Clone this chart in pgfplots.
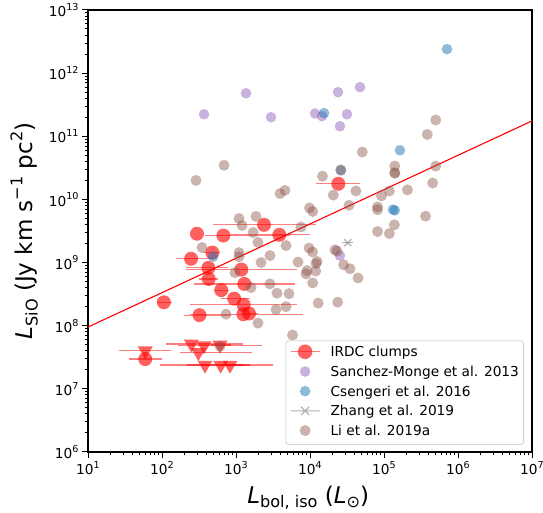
\documentclass[border=0pt]{standalone}
\usepackage{fontspec}
\setmainfont{DejaVu Sans}
\usepackage{pgfplots}
\pgfplotsset{compat=1.18}

\definecolor{tabpurple}{HTML}{9467BD}
\definecolor{tabblue}{HTML}{1F77B4}
\definecolor{tabgray}{HTML}{7F7F7F}
\definecolor{tabbrown}{HTML}{8C564B}

\newcommand{\sups}[1]{\raisebox{0.46em}{\scalebox{0.7}{#1}}}
\newcommand{\subs}[1]{\raisebox{-0.2em}{\scalebox{0.7}{#1}}}
\newcommand{\dec}[1]{10\sups{#1}}

\begin{document}
\begin{tikzpicture}
\begin{axis}[
  name=main,
  scale only axis, width=444pt, height=442pt,
  xmode=log, ymode=log,
  xmin=1e1, xmax=1e7, ymin=1e6, ymax=1e13,
  xtick={1e1,1e2,1e3,1e4,1e5,1e6,1e7},
  xticklabels={\dec{1},\dec{2},\dec{3},\dec{4},\dec{5},\dec{6},\dec{7}},
  ytick={1e6,1e7,1e8,1e9,1e10,1e11,1e12,1e13},
  yticklabels={\dec{6},\dec{7},\dec{8},\dec{9},\dec{10},\dec{11},\dec{12},\dec{13}},
  xtick pos=bottom, ytick pos=left,
  tick align=outside,
  major tick length=6pt, minor tick length=3.5pt,
  every tick/.style={black, line width=1pt},
  axis line style={black, line width=1.3pt},
  tick label style={font=\fontsize{13.7}{16}\selectfont},
  xlabel={\textit{L}\subs{bol, iso} (\textit{L}\subs{⊙})},
  ylabel={\textit{L}\subs{SiO} (Jy km s\sups{−1} pc\sups{2})},
  every axis x label/.style={at={(axis description cs:0.496,-0.103)}, anchor=center, font=\fontsize{23}{27}\selectfont},
  every axis y label/.style={at={(axis description cs:-0.144,0.5)}, rotate=90, anchor=center, font=\fontsize{23}{27}\selectfont},
  legend style={
    at={(axis description cs:0.98198,0.01584)}, anchor=south east,
    draw=black!18, line width=0.8pt, rounded corners=3pt,
    fill=white, fill opacity=0.8, text opacity=1,
    inner xsep=4.7pt, inner ysep=6pt,
    row sep=6.7pt, column sep=0pt,
    font=\fontsize{13.7}{16}\selectfont,
    nodes={inner sep=0pt, text height=10pt, text depth=3pt, draw=none},
    cells={anchor=base west},
  },
]

% IRDC clumps, detections: x, y, lower and upper error in x
\addplot[forget plot, only marks, mark=*, mark size=7pt,
  mark options={fill=red, fill opacity=0.62, draw opacity=0},
  error bars/.cd, x dir=both, x explicit, error mark=none,
  error bar style={red, line width=1.2pt, opacity=0.5}]
  table[x=x, y=y, x error minus=em, x error plus=ep] {
x      y       em     ep
2390   3.96e9  1901   9660
297    2.86e9  0      0
675    2.68e9  294    4695
3850   2.75e9  3020   6150
479    1.44e9  121    129
247    1.15e9  92     242
423    8.24e8  212    357
1180   7.74e8  969    5490
428    5.50e8  112    143
1295   4.59e8  1025   4975
632    3.66e8  132    168
106    2.35e8  20.5   30
946    2.68e8  319    599
1270   2.14e8  1031   5400
321    1.47e8  123    534
1255   1.52e8  1016   6785
1500   1.56e8  300    500
24100  1.77e10 12050  23300
59.4   2.96e7  23.3   39.6
};

% IRDC clumps, upper limits
\addplot[forget plot, only marks, mark=triangle*, mark size=8.6pt,
  mark options={fill=red, fill opacity=0.62, draw opacity=0, rotate=180},
  error bars/.cd, x dir=both, x explicit, error mark=none,
  error bar style={red, line width=1.2pt, opacity=0.5}]
  table[x=x, y=y, x error minus=em, x error plus=ep] {
x      y       em     ep
59.4   4.01e7  32.9   71.6
249    5.13e7  136    996
370    4.82e7  206    1875
608    4.94e7  150    250
310    3.77e7  135    1320
381    2.38e7  287    1164
621    2.38e7  403    2539
830    2.38e7  200    400
};

% Sanchez-Monge et al. 2013
\addplot[forget plot, only marks, mark=*, mark size=5.3pt,
  mark options={fill=tabpurple, fill opacity=0.5, draw opacity=0}]
  table {
370    2.23e11
1365   4.8e11
2970   2.0e11
11700  2.3e11
14500  2.08e11
23900  4.99e11
47400  6.0e11
31600  2.23e11
25400  1.44e11
25400  1.29e9
};

% Csengeri et al. 2016
\addplot[forget plot, only marks, mark=*, mark size=5.3pt,
  mark options={fill=tabblue, fill opacity=0.5, draw opacity=0}]
  table {
710000 2.4e12
15500  2.32e11
164000 6.0e10
26200  2.88e10
132000 6.9e9
140000 6.7e9
489    1.24e9
};

% Zhang et al. 2019
\addplot[forget plot, only marks, mark=x, mark size=5pt,
  mark options={tabgray, opacity=0.6, line width=1.2pt},
  error bars/.cd, x dir=both, x explicit, error mark=none,
  error bar style={tabgray, line width=1.2pt, opacity=0.6}]
  table[x=x, y=y, x error minus=em, x error plus=ep] {
x      y       em     ep
32300  2.06e9  5300   5800
};

% Li et al. 2019a
\addplot[forget plot, only marks, mark=*, mark size=5.5pt,
  mark options={fill=tabbrown, fill opacity=0.45, draw opacity=0}]
  table {
689    3.47e10
288    2.0e10
3940   1.24e10
4590   1.39e10
1100   4.99e9
1862   5.37e9
1205   3.87e9
1698   2.99e9
1982   2.08e9
347    1.73e9
1100   1.44e9
1100   1.24e9
2877   1.29e9
2178   1.0e9
4742   1.86e9
7550   3.66e9
6890   1.02e9
9100   7.46e8
8830   6.62e8
968    6.93e8
1596   4.01e8
2877   4.59e8
3580   3.28e8
5200   3.22e8
3475   1.80e8
4742   2.0e8
733    1.52e8
1982   1.10e8
5810   7.11e7
608    4.73e7
9680   1.70e9
10820  1.47e9
21780  1.59e9
23200  1.52e9
12450  1.04e9
12050  9.64e8
11940  7.33e8
10870  4.76e8
28500  9.23e8
34750  7.97e8
44550  5.71e8
12910  2.28e8
23670  2.36e8
81650  3.10e9
118000 2.88e9
138000 3.96e9
14760  2.33e10
20650  1.17e10
41600  1.36e10
33650  8.09e9
9840   7.33e9
10870  6.45e9
81650  7.60e9
81650  6.87e9
92500  1.14e10
118000 1.36e10
207000 1.42e10
455000 1.82e10
140000 3.38e10
140000 2.65e10
140000 2.60e10
364000 5.43e9
501000 1.81e11
384000 1.07e11
50900  5.63e10
500000 3.37e10
26000  2.94e10
};

% power-law fit
\addplot[forget plot, red, line width=1.1pt] coordinates {(10,9.53e7) (1e7,1.75e11)};

\addlegendimage{legend image code/.code={
  \path[use as bounding box, draw=none] (0pt,-3pt) rectangle (40pt,10pt);
  \draw[red, draw opacity=0.5, line width=1.2pt] (0pt,5pt) -- (29pt,5pt);
  \fill[red, fill opacity=0.62, draw=none] (14.5pt,5pt) circle (7.3pt);}}
\addlegendentry{IRDC clumps}
\addlegendimage{legend image code/.code={
  \path[use as bounding box, draw=none] (0pt,-3pt) rectangle (40pt,10pt);
  \fill[tabpurple, fill opacity=0.5, draw=none] (14.5pt,5pt) circle (5.3pt);}}
\addlegendentry{Sanchez-Monge et al. 2013}
\addlegendimage{legend image code/.code={
  \path[use as bounding box, draw=none] (0pt,-3pt) rectangle (40pt,10pt);
  \fill[tabblue, fill opacity=0.5, draw=none] (14.5pt,5pt) circle (5.3pt);}}
\addlegendentry{Csengeri et al. 2016}
\addlegendimage{legend image code/.code={
  \path[use as bounding box, draw=none] (0pt,-3pt) rectangle (40pt,10pt);
  \draw[tabgray, draw opacity=0.6, line width=1.2pt] (0pt,5pt) -- (29pt,5pt)
    (10.5pt,1pt) -- (18.5pt,9pt) (10.5pt,9pt) -- (18.5pt,1pt);}}
\addlegendentry{Zhang et al. 2019}
\addlegendimage{legend image code/.code={
  \path[use as bounding box, draw=none] (0pt,-3pt) rectangle (40pt,10pt);
  \fill[tabbrown, fill opacity=0.45, draw=none] (14.5pt,5pt) circle (5.5pt);}}
\addlegendentry{Li et al. 2019a}
\end{axis}
\pgfresetboundingbox
\path (main.south west) ++(-88pt,-61pt) rectangle ([shift={(11pt,10pt)}]main.north east);
\end{tikzpicture}
\end{document}
